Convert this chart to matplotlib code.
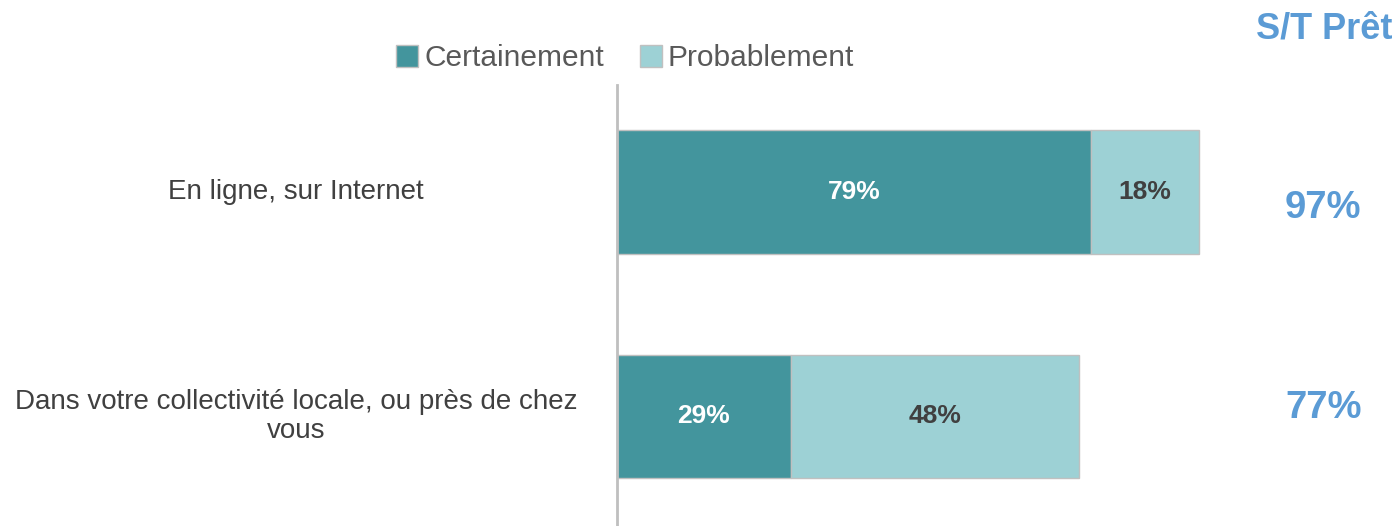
import matplotlib.pyplot as plt
import numpy as np

plt.rcParams['font.family'] = ['Liberation Sans', 'DejaVu Sans']

categories = ['En ligne, sur Internet',
              'Dans votre collectivité locale, ou près de chez\nvous']
certainement = [79, 29]
probablement = [18, 48]
totals = ['97%', '77%']
series_names = ['Certainement', 'Probablement']

dark = '#43959D'
light = '#9DD1D5'
blue = '#5B9BD5'

fig = plt.figure(figsize=(14, 5.26), dpi=100)
# axes spans x 617..1217 px, y from 85 px down to bottom
ax = fig.add_axes([617 / 1400, 0, 600 / 1400, 1 - 85 / 526])

y = np.arange(len(categories))
h = 0.552
b1 = ax.barh(y, certainement, height=h, color=dark, edgecolor='#C0C0C0',
             linewidth=1, label=series_names[0])
b2 = ax.barh(y, probablement, left=certainement, height=h, color=light,
             edgecolor='#C0C0C0', linewidth=1, label=series_names[1])

for i in range(len(categories)):
    ax.text(certainement[i] / 2, y[i], f'{certainement[i]}%', ha='center',
            va='center', color='white', fontsize=19, fontweight='bold')
    ax.text(certainement[i] + probablement[i] / 2, y[i], f'{probablement[i]}%',
            ha='center', va='center', color='#404040', fontsize=19,
            fontweight='bold')
    ax.text(-53.5, y[i], categories[i], ha='center', va='center',
            color='#404040', fontsize=20, linespacing=1.15, clip_on=False)

# totals column
ax.text(117.7, 0.07, totals[0], ha='center', va='center', color=blue,
        fontsize=27.5, fontweight='bold', clip_on=False)
ax.text(117.7, 0.96, totals[1], ha='center', va='center', color=blue,
        fontsize=27.5, fontweight='bold', clip_on=False)
fig.text(1324 / 1400, 1 - 29 / 526, 'S/T Prêt', ha='center', va='center',
         color=blue, fontsize=26, fontweight='bold')

ax.set_xlim(0, 100)
ax.set_ylim(1.488, -0.477)
ax.set_xticks([])
ax.set_yticks([])
for s in ['top', 'right', 'bottom']:
    ax.spines[s].set_visible(False)
ax.spines['left'].set_color('#BFBFBF')
ax.spines['left'].set_linewidth(2)

leg = fig.legend(handles=[b1, b2], loc='center', ncol=2, frameon=False,
                 bbox_to_anchor=(625 / 1400, 1 - 58 / 526), fontsize=21.5,
                 handlelength=0.75, handleheight=0.75, handletextpad=0.2,
                 columnspacing=1.2, borderpad=0)
for t in leg.get_texts():
    t.set_color('#595959')

fig.savefig('out.png', dpi=100)
